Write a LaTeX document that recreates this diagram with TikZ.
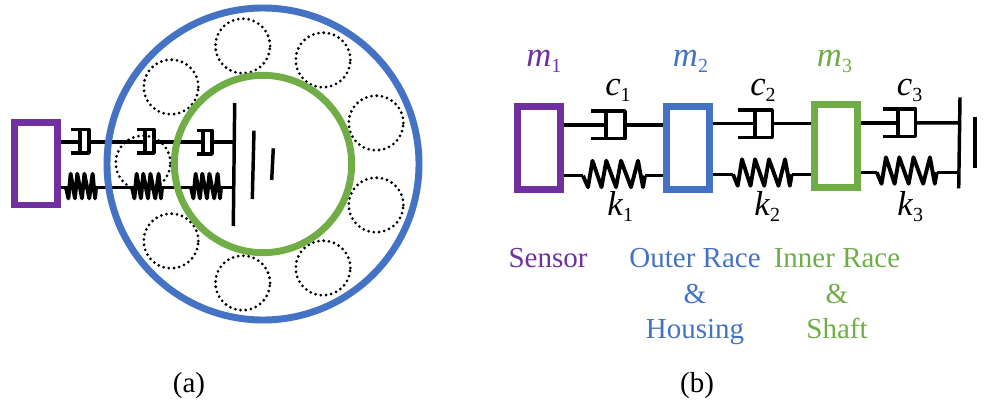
\documentclass[tikz,border=0pt]{standalone}
\usepackage{fontspec}
\setmainfont{Liberation Serif}
\definecolor{cpurple}{HTML}{7030A0}
\definecolor{cblue}{HTML}{4472C4}
\definecolor{cgreen}{HTML}{70AD47}
\newcommand{\sym}[2]{\textit{#1}\raisebox{-4.5pt}{\fontsize{15}{15}\selectfont #2}}
\tikzset{
  x=0.75pt,y=-0.75pt,
  mech/.style={draw=black,line width=2.6pt},
  massbox/.style={draw,line width=5.2pt,fill=white,minimum width=32.3pt,minimum height=62.2pt,inner sep=0pt},
  ball/.style={draw=black,line width=2.3pt,line cap=round,dash pattern=on 0pt off 3.95pt,circle,minimum size=41pt,inner sep=0pt},
  ring/.style={draw,line width=5.2pt,circle,inner sep=0pt},
  symb/.style={anchor=base west,inner sep=0pt,font=\fontsize{26}{26}\selectfont},
  lab/.style={anchor=base,inner sep=0pt,font=\fontsize{21.75}{22}\selectfont},
  coil/.pic={\draw[mech,line width=2.9pt,line join=round] (0,0)--(5,11.5)--(9.5,-15)--(18.5,11.5)--(23.3,-15)--(33,11.5)--(38,-15)--(48,11.5)--(55,-15)--(60,11.5)--(62,0);},
}
\newcommand{\damper}[6]{% left x, piston x, wall x, top y, bottom y, name
  \coordinate (#6p) at (#2,{(#4+#5)/2});
  \coordinate (#6w) at (#3,{(#4+#5)/2});
  \draw[mech,line join=round] (#1,#4)--(#3,#4)--(#3,#5)--(#1,#5);
  \draw[mech] (#2,#4)--(#2,#5);
}
\begin{document}
\begin{tikzpicture}
\useasboundingbox (0,0) rectangle (984,403);
% (a) rolling elements
\foreach \n/\x/\y in {1/242.7/46,2/323/60,3/376/123,4/376/205,5/323/268,6/242.7/283,7/171/241,8/143/163,9/171/87}
  \node[ball] (ball\n) at (\x,\y) {};
% (a) links
\node[massbox,draw=cpurple] (sa) at (36,163.5) {};
\coordinate (wa1) at (234.7,103); \coordinate (wa2) at (233.3,226);
\coordinate (wb1) at (254,130.7); \coordinate (wb2) at (252.3,199);
\coordinate (wc1) at (273.3,148.3); \coordinate (wc2) at (271.7,180);
\draw[mech] (wa1)--(wa2);
\draw[mech] (wb1)--(wb2);
\draw[mech] (wc1)--(wc2);
\damper{71}{80}{89}{129.5}{153}{da}
\damper{137}{145}{154}{129.5}{153}{db}
\damper{197}{203}{212}{130.5}{154}{dc}
\coordinate (ua) at (sa.east |- 0,142);
\coordinate (la) at (sa.east |- 0,187.7);
\coordinate (ub) at (wa1 |- 0,142);
\coordinate (lb) at (232,187.7);
\draw[mech] (ua)--(dap |- ua);
\draw[mech] (daw |- ua)--(dbp |- ua);
\draw[mech] (dbw |- ua)--(dcp |- ua);
\draw[mech] (dcw |- ua)--(ub);
\draw[mech] (la)--(lb);
\pic[xscale=0.484,yscale=0.93] at (66,187.7) {coil};
\pic[xscale=0.484,yscale=0.93] at (132,187.7) {coil};
\pic[xscale=0.484,yscale=0.93] at (191,187.7) {coil};
% (a) races
\node[ring,draw=cblue,minimum size=234pt] (outer) at (263,164) {};
\node[ring,draw=cgreen,minimum size=133pt] (inner) at (263,164) {};
% (b) masses
\node[massbox,draw=cpurple] (m1) at (539.3,148.3) {};
\node[massbox,draw=cblue] (m2) at (688.3,148.3) {};
\node[massbox,draw=cgreen] (m3) at (835.7,146.4) {};
% (b) wall
\coordinate (w1) at (960,97.3); \coordinate (w2) at (958.7,188.3);
\coordinate (w3) at (975,117.3); \coordinate (w4) at (975,168.3);
\draw[mech] (w1)--(w2);
\draw[mech] (w3)--(w4);
% (b) dampers
\damper{590.7}{606}{625}{111}{138.7}{d1}
\damper{738.3}{755}{772.3}{110}{137.3}{d2}
\damper{883}{898}{915.7}{109}{136.7}{d3}
\draw[mech] (m1.east |- d1p)--(d1p);
\draw[mech] (d1w)--(m2.west |- d1w);
\draw[mech] (m2.east |- d2p)--(d2p);
\draw[mech] (d2w)--(m3.west |- d2w);
\draw[mech] (m3.east |- d3p)--(d3p);
\draw[mech] (d3w)--(959.5,122.8);
% (b) springs
\coordinate (s1a) at (583,175.7); \coordinate (s1b) at (645,175.7);
\coordinate (s2a) at (733,174.3); \coordinate (s2b) at (791.7,174.3);
\coordinate (s3a) at (876.7,172.3); \coordinate (s3b) at (936.7,172.3);
\draw[mech] (m1.east |- s1a)--(s1a);
\draw[mech] (s1b)--(m2.west |- s1b);
\draw[mech] (m2.east |- s2a)--(s2a);
\draw[mech] (s2b)--(m3.west |- s2b);
\draw[mech] (m3.east |- s3a)--(s3a);
\draw[mech] (s3b)--(959,172.3);
\pic at (s1a) {coil};
\pic[xscale=0.947] at (s2a) {coil};
\pic[xscale=0.968] at (s3a) {coil};
% (b) symbols
\node[symb,text=cpurple] (lm1) at (526,67) {\sym{m}{1}};
\node[symb,text=cblue] (lm2) at (672.7,67) {\sym{m}{2}};
\node[symb,text=cgreen] (lm3) at (816.7,67) {\sym{m}{3}};
\node[symb] (lc1) at (605,95) {\sym{c}{1}};
\node[symb] (lc2) at (750,95) {\sym{c}{2}};
\node[symb] (lc3) at (896.7,95) {\sym{c}{3}};
\node[symb] (lk1) at (607,215) {\sym{k}{1}};
\node[symb] (lk2) at (754,215) {\sym{k}{2}};
\node[symb] (lk3) at (897,215) {\sym{k}{3}};
% (b) names
\node[lab,text=cpurple] (tsens) at (548,267) {Sensor};
\node[lab,text=cblue] (tout1) at (695,267) {Outer Race};
\node[lab,text=cblue] (tout2) at (695,303) {\&};
\node[lab,text=cblue] (tout3) at (695,338) {Housing};
\node[lab,text=cgreen] (tin1) at (837,267) {Inner Race};
\node[lab,text=cgreen] (tin2) at (837,303) {\&};
\node[lab,text=cgreen] (tin3) at (837,338) {Shaft};
\node[lab] (capa) at (189,392) {(a)};
\node[lab] (capb) at (697,392) {(b)};
\end{tikzpicture}
\end{document}
